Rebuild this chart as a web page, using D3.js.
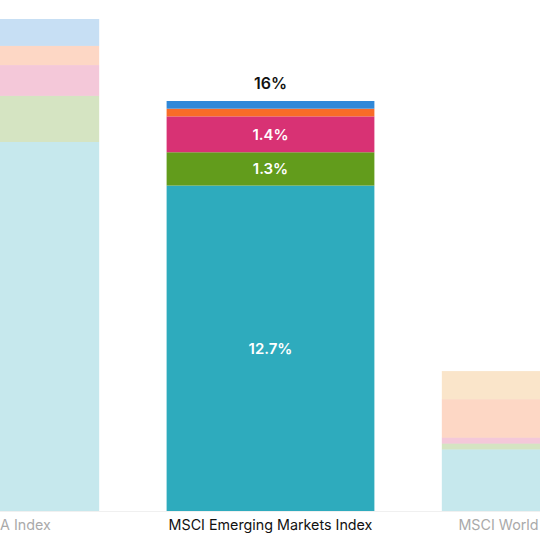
<!DOCTYPE html>
<html>
<head>
<meta charset="utf-8">
<script src="https://cdn.jsdelivr.net/npm/d3@7"></script>
<style>
  body { margin: 0; background: #fff; }
  text { font-family: Inter, "Noto Sans", sans-serif; }
</style>
</head>
<body>
<svg id="chart"></svg>
<script>
// index names, left to right (the outer two are cut off by the frame)
const indexes = ['MSCI USA Index', 'MSCI Emerging Markets Index', 'MSCI World ex USA Index'];
// stack order, bottom up
const seriesKeys = ['cyan', 'green', 'pink', 'orange', 'amber', 'blue'];
const seriesColors = ['#2eabbd', '#629c1c', '#d83274', '#f86c28', '#eea03c', '#3088d8'];
// values in % per index, same order as seriesKeys
const cyanVals = [14.4, 12.7, 2.4];
const greenVals = [1.8, 1.3, 0.23];
const pinkVals = [1.2, 1.4, 0.23];
const orangeVals = [0.75, 0.3, 1.5];
const amberVals = [0, 0, 1.1];
const blueVals = [1.05, 0.3, 0];
const totalLabels = ['', '16%', ''];
const activeIndex = 'MSCI Emerging Markets Index';

const table = indexes.map((name, i) => ({
    name: name,
    cyan: cyanVals[i], green: greenVals[i], pink: pinkVals[i],
    orange: orangeVals[i], amber: amberVals[i], blue: blueVals[i]
}));

const width = 540, height = 540;
const margin = {top: 0, bottom: 29};
const baseY = height - margin.bottom;

const svg = d3.select('#chart').attr('width', width).attr('height', height);

// band scale wider than the frame so the side bars get clipped
const x = d3.scaleBand()
    .domain(indexes)
    .range([-143, 684])
    .paddingInner(0.245)
    .paddingOuter(0.125);

const y = d3.scaleLinear()
    .domain([0, 16])
    .range([baseY, 101]);

const color = d3.scaleOrdinal().domain(seriesKeys).range(seriesColors);

const stacked = d3.stack().keys(seriesKeys)(table);

// baseline
svg.append('line')
    .attr('x1', 0).attr('x2', width)
    .attr('y1', baseY + 0.5).attr('y2', baseY + 0.5)
    .attr('stroke', '#f0f0f0');

const layers = svg.append('g').selectAll('g')
    .data(stacked)
    .join('g')
    .attr('fill', d => color(d.key));

layers.selectAll('rect')
    .data(d => d.map(p => ({p: p, key: d.key})))
    .join('rect')
    .attr('x', d => x(d.p.data.name))
    .attr('width', x.bandwidth())
    .attr('y', d => y(d.p[1]))
    .attr('height', d => y(d.p[0]) - y(d.p[1]))
    .attr('opacity', d => d.p.data.name === activeIndex ? 1 : 0.27);

// segment labels inside the active bar (only the bigger pieces)
const activeRow = indexes.indexOf(activeIndex);
const segLabels = stacked
    .map(s => ({key: s.key, p: s[activeRow]}))
    .filter(d => d.p[1] - d.p[0] >= 1);

svg.append('g').selectAll('text')
    .data(segLabels)
    .join('text')
    .attr('x', x(activeIndex) + x.bandwidth() / 2)
    .attr('y', d => (y(d.p[0]) + y(d.p[1])) / 2)
    .attr('dy', '0.35em')
    .attr('text-anchor', 'middle')
    .attr('fill', '#fff')
    .attr('font-size', 15)
    .attr('font-weight', 600)
    .text(d => `${d3.format('.1f')(d.p[1] - d.p[0])}%`);

// totals above bars
svg.append('g').selectAll('text')
    .data(table)
    .join('text')
    .attr('x', d => x(d.name) + x.bandwidth() / 2)
    .attr('y', d => y(d3.sum(seriesKeys, k => d[k])) - 12)
    .attr('text-anchor', 'middle')
    .attr('fill', '#111')
    .attr('font-size', 16)
    .attr('font-weight', 600)
    .text((d, i) => totalLabels[i]);

// category labels
const xAxis = d3.axisBottom(x).tickSize(0).tickPadding(9);
const xAxisG = svg.append('g')
    .attr('transform', `translate(0,${baseY})`)
    .call(xAxis);
xAxisG.select('.domain').remove();
xAxisG.selectAll('text')
    .attr('font-size', 14.3)
    .attr('font-family', 'Inter, "Noto Sans", sans-serif')
    .attr('fill', d => d === activeIndex ? '#111' : '#aaa');
</script>
</body>
</html>
